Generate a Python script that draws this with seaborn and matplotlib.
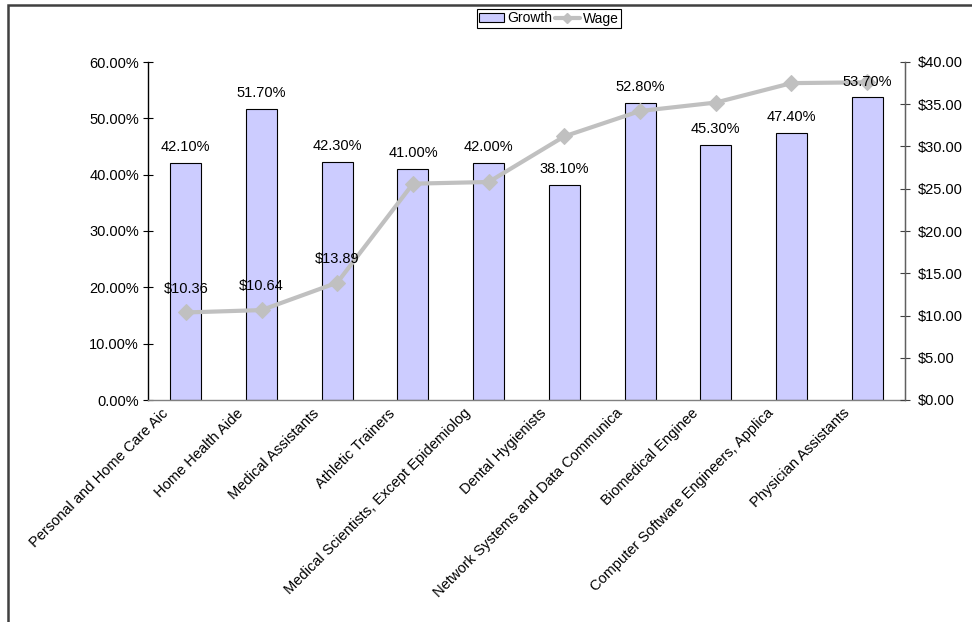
import numpy as np
import matplotlib
matplotlib.use('Agg')
import matplotlib.pyplot as plt
import seaborn as sns
from matplotlib.patches import Rectangle, Patch
from matplotlib.lines import Line2D
from matplotlib.transforms import ScaledTranslation
from matplotlib.ticker import FixedLocator, FuncFormatter

# occupations as they show on the axis (Excel cuts the long ones)
jobs = ['Personal and Home Care Aic', 'Home Health Aide', 'Medical Assistants',
        'Athletic Trainers', 'Medical Scientists, Except Epidemiolog',
        'Dental Hygienists', 'Network Systems and Data Communica',
        'Biomedical Enginee', 'Computer Software Engineers, Applica',
        'Physician Assistants']
growth = [42.1, 51.7, 42.3, 41.0, 42.0, 38.1, 52.8, 45.3, 47.4, 53.7]
wage = [10.36, 10.64, 13.89, 25.6, 25.8, 31.2, 34.2, 35.2, 37.5, 37.6]
wage_labels = ['$10.36', '$10.64', '$13.89']

sns.set_style('white')
plt.rcParams['font.family'] = ['Liberation Sans', 'DejaVu Sans']
plt.rcParams['font.size'] = 10.5
plt.rcParams['text.color'] = 'black'
plt.rcParams['xtick.color'] = 'black'
plt.rcParams['ytick.color'] = 'black'

fig = plt.figure(figsize=(9.72, 6.22), dpi=100)
ax = fig.add_axes([148/972, 1-400/622, (905-148)/972, (400-62)/622])
ax2 = ax.twinx()

bar_col = '#CCCCFF'
line_col = '#C0C0C0'

sns.barplot(x=jobs, y=growth, ax=ax, color=bar_col, saturation=1,
            edgecolor='black', linewidth=0.8, width=0.41)
pos = np.arange(len(jobs))
sns.lineplot(x=pos, y=wage, ax=ax2, color=line_col, lw=3, marker='D',
             markersize=8, markeredgecolor=line_col)

ax.set_xlim(-0.5, len(jobs) - 0.5)
ax.set_ylim(0, 60)
ax2.set_ylim(0, 40)
ax.set_yticks(np.arange(0, 61, 10))
ax2.set_yticks(np.arange(0, 41, 5))
ax.yaxis.set_major_formatter(FuncFormatter(lambda v, p: '%.2f%%' % v))
ax2.yaxis.set_major_formatter(FuncFormatter(lambda v, p: '$%.2f' % v))
ax2.set_ylabel('')
ax.set_ylabel('')

# x ticks: labels at the centres, tick marks at the boundaries
ax.set_xticks(pos)
ax.set_xticklabels(jobs, rotation=45, ha='right', va='center', rotation_mode='anchor')
ax.xaxis.set_minor_locator(FixedLocator(np.arange(-0.5, len(jobs), 1)))
ax.tick_params(axis='x', which='major', length=0, pad=8)
ax.tick_params(axis='x', which='minor', length=6, direction='inout', color='#404040')
shift = ScaledTranslation(-20/100, 0, fig.dpi_scale_trans)
for lab in ax.get_xticklabels():
    lab.set_transform(lab.get_transform() + shift)

ax.tick_params(axis='y', length=7, direction='inout', color='black', pad=3)
ax2.tick_params(axis='y', length=7, direction='inout', color='#404040', pad=6)

for a in (ax, ax2):
    a.spines['top'].set_visible(False)
ax.spines['left'].set_color('black')
ax.spines['bottom'].set_color('#808080')
ax2.spines['right'].set_color('#606060')
ax2.spines['left'].set_visible(False)
ax2.spines['bottom'].set_visible(False)
for s in ('left', 'bottom'):
    ax.spines[s].set_linewidth(1)
ax2.spines['right'].set_linewidth(1)

# data labels (drawn on top of the line)
for i, g in enumerate(growth):
    ax2.annotate('%.2f%%' % g, xy=(i, g), xycoords=ax.transData,
                 xytext=(0, 11.5), textcoords='offset points',
                 ha='center', va='center', fontsize=10.5)
for i, t in enumerate(wage_labels):
    ax2.annotate(t, xy=(i, wage[i]), xycoords='data',
                 xytext=(0, 17), textcoords='offset points',
                 ha='center', va='center', fontsize=10.5)

handles = [Patch(facecolor=bar_col, edgecolor='black', linewidth=0.8),
           Line2D([], [], color=line_col, lw=3, marker='D', markersize=5)]
leg = fig.legend(handles, ['Growth', 'Wage'], loc='center',
                 bbox_to_anchor=(549/972, 1-18.5/622), ncol=2, frameon=True,
                 fancybox=False, edgecolor='black', framealpha=1,
                 handlelength=1.8, handleheight=0.6, columnspacing=0.2,
                 handletextpad=0.2, borderpad=0.2, borderaxespad=0, fontsize=10)
leg.get_frame().set_linewidth(0.8)

# outer chart border, cut by the picture edges
fig.add_artist(Rectangle((8/972, -0.2), 1.5, 1.2 - 5/622, transform=fig.transFigure,
                         fill=False, edgecolor='#404040', lw=1.8))

fig.savefig('out.png', dpi=100)
